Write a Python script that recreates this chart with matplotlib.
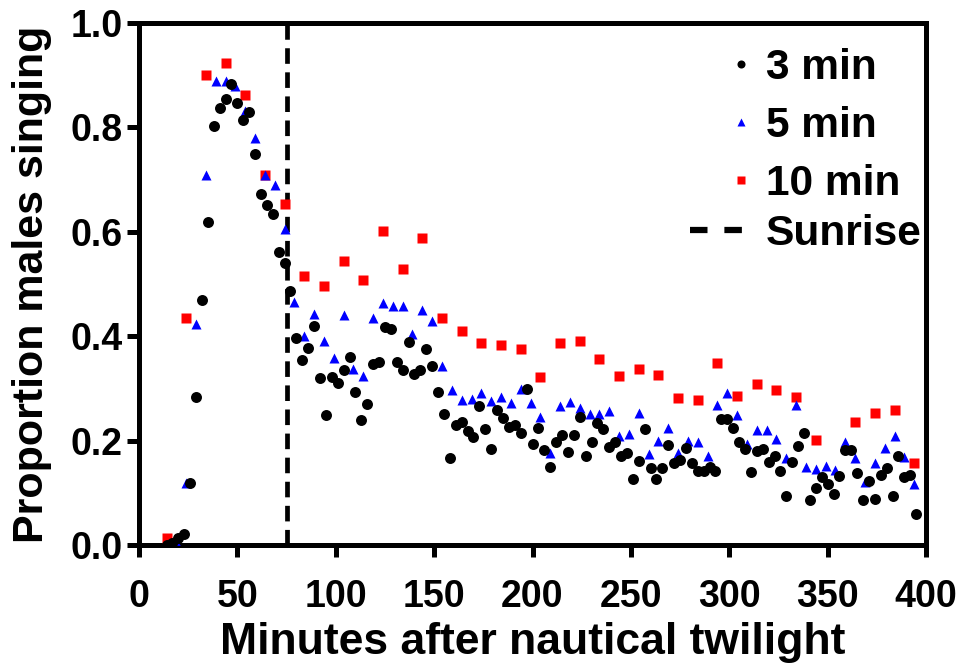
import numpy as np
import matplotlib
matplotlib.use("Agg")
import matplotlib.pyplot as plt
from matplotlib.lines import Line2D

plt.rcParams['font.family'] = ['Liberation Sans', 'DejaVu Sans']
plt.rcParams['font.weight'] = 'bold'

# ---- data ----
start_min = 14
step3, step5, step10 = 3, 5, 10

prop_3min = [
    0.000, 0.003, 0.013, 0.022, 0.118, 0.284, 0.469, 0.618, 0.803, 0.838,
    0.854, 0.884, 0.846, 0.814, 0.830, 0.749, 0.673, 0.652, 0.635, 0.562,
    0.541, 0.487, 0.397, 0.354, 0.378, 0.419, 0.319, 0.250, 0.322, 0.311,
    0.335, 0.361, 0.293, 0.239, 0.270, 0.346, 0.350, 0.417, 0.414, 0.350,
    0.335, 0.389, 0.328, 0.335, 0.376, 0.342, 0.294, 0.251, 0.167, 0.230,
    0.235, 0.219, 0.206, 0.267, 0.223, 0.183, 0.258, 0.243, 0.227, 0.229,
    0.214, 0.298, 0.194, 0.225, 0.182, 0.150, 0.197, 0.211, 0.179, 0.211,
    0.246, 0.170, 0.197, 0.233, 0.222, 0.187, 0.197, 0.171, 0.176, 0.127,
    0.160, 0.222, 0.147, 0.127, 0.148, 0.192, 0.157, 0.162, 0.185, 0.158,
    0.141, 0.141, 0.150, 0.141, 0.241, 0.241, 0.224, 0.198, 0.184, 0.140,
    0.180, 0.184, 0.159, 0.170, 0.142, 0.093, 0.159, 0.190, 0.214, 0.086,
    0.109, 0.131, 0.116, 0.097, 0.133, 0.182, 0.182, 0.138, 0.087, 0.122,
    0.088, 0.135, 0.148, 0.094, 0.171, 0.130, 0.135, 0.059,
]

prop_5min = [
    0.000, 0.005, 0.118, 0.423, 0.709, 0.889, 0.889, 0.879, 0.832, 0.780,
    0.708, 0.689, 0.606, 0.465, 0.400, 0.443, 0.390, 0.359, 0.441, 0.337,
    0.323, 0.434, 0.463, 0.457, 0.457, 0.404, 0.451, 0.430, 0.342, 0.297,
    0.277, 0.279, 0.292, 0.275, 0.284, 0.272, 0.298, 0.272, 0.246, 0.176,
    0.267, 0.273, 0.263, 0.251, 0.251, 0.257, 0.208, 0.213, 0.253, 0.175,
    0.200, 0.224, 0.176, 0.200, 0.198, 0.170, 0.269, 0.292, 0.249, 0.194,
    0.221, 0.221, 0.203, 0.167, 0.269, 0.150, 0.146, 0.152, 0.144, 0.197,
    0.167, 0.121, 0.158, 0.185, 0.208, 0.168, 0.116,
]

prop_10min = [
    0.013, 0.435, 0.900, 0.924, 0.863, 0.708, 0.654, 0.516, 0.497, 0.545,
    0.507, 0.601, 0.529, 0.589, 0.435, 0.410, 0.387, 0.384, 0.375, 0.322,
    0.387, 0.390, 0.356, 0.323, 0.338, 0.326, 0.281, 0.277, 0.349, 0.286,
    0.309, 0.297, 0.284, 0.202, np.nan, 0.236, 0.252, 0.258, 0.157,
]

sunrise_min = 75
series_labels = ['3 min', '5 min', '10 min']
sunrise_label = 'Sunrise'
x_label = 'Minutes after nautical twilight'
y_label = 'Proportion males singing'
x_ticks = [0, 50, 100, 150, 200, 250, 300, 350, 400]
y_ticks = [0.0, 0.2, 0.4, 0.6, 0.8, 1.0]

t3 = start_min + step3 * np.arange(len(prop_3min))
t5 = start_min + step5 * np.arange(len(prop_5min))
t10 = start_min + step10 * np.arange(len(prop_10min))

# ---- figure ----
W, H = 969, 669
fig = plt.figure(figsize=(W / 100, H / 100), dpi=100)
ax = fig.add_axes([139 / W, 1 - 545 / H, (926 - 139) / W, (545 - 23) / H])

ms = 7.9
ax.plot(t10, prop_10min, linestyle='none', marker='s', ms=ms * 0.95,
        color='#ff0000', mec='none', zorder=3)
ax.plot(t5, prop_5min, linestyle='none', marker='^', ms=ms,
        color='#0000ff', mec='none', zorder=4)
ax.plot(t3, prop_3min, linestyle='none', marker='o', ms=ms,
        color='black', mec='none', zorder=5)
ax.axvline(sunrise_min, color='black', lw=3.4, linestyle=(0, (3.3, 1.8)),
           zorder=2)

ax.set_xlim(0, 400)
ax.set_ylim(0, 1.0)
ax.set_xticks(x_ticks)
ax.set_yticks(y_ticks)
ax.set_xticklabels([str(v) for v in x_ticks])
ax.set_yticklabels([f'{v:.1f}' for v in y_ticks])

for sp in ax.spines.values():
    sp.set_linewidth(3.6)
ax.tick_params(axis='both', which='major', direction='out', length=8.5,
               width=3.6, labelsize=27, pad=3.5)
ax.tick_params(axis='x', pad=16)
for lab in ax.get_xticklabels() + ax.get_yticklabels():
    lab.set_fontweight('bold')

ax.set_xlabel(x_label, fontsize=32, fontweight='bold', labelpad=5)
ax.set_ylabel(y_label, fontsize=31, fontweight='bold', labelpad=13)

# ---- legends ----
fs_leg = 30.6
h1 = [Line2D([], [], linestyle='none', marker='o', ms=5.8, color='black', mec='none'),
      Line2D([], [], linestyle='none', marker='^', ms=6.0, color='#0000ff', mec='none'),
      Line2D([], [], linestyle='none', marker='s', ms=5.4, color='#ff0000', mec='none')]
leg1 = fig.legend(h1, series_labels, loc='upper left',
                  bbox_to_anchor=(739 / W, 1 - 48 / H), bbox_transform=fig.transFigure,
                  frameon=False, handlelength=0.08,
                  handletextpad=0.55, borderpad=0, borderaxespad=0,
                  labelspacing=0.42, prop={'weight': 'bold', 'size': fs_leg})
h2 = [Line2D([], [], color='black', lw=4.5, linestyle=(0, (2.8, 2.7)))]
leg2 = fig.legend(h2, [sunrise_label], loc='upper left',
                  bbox_to_anchor=(689.5 / W, 1 - 214 / H), bbox_transform=fig.transFigure,
                  frameon=False, handlelength=1.25,
                  handletextpad=0.55, borderpad=0, borderaxespad=0,
                  prop={'weight': 'bold', 'size': fs_leg})

fig.savefig('out.png', dpi=100)
